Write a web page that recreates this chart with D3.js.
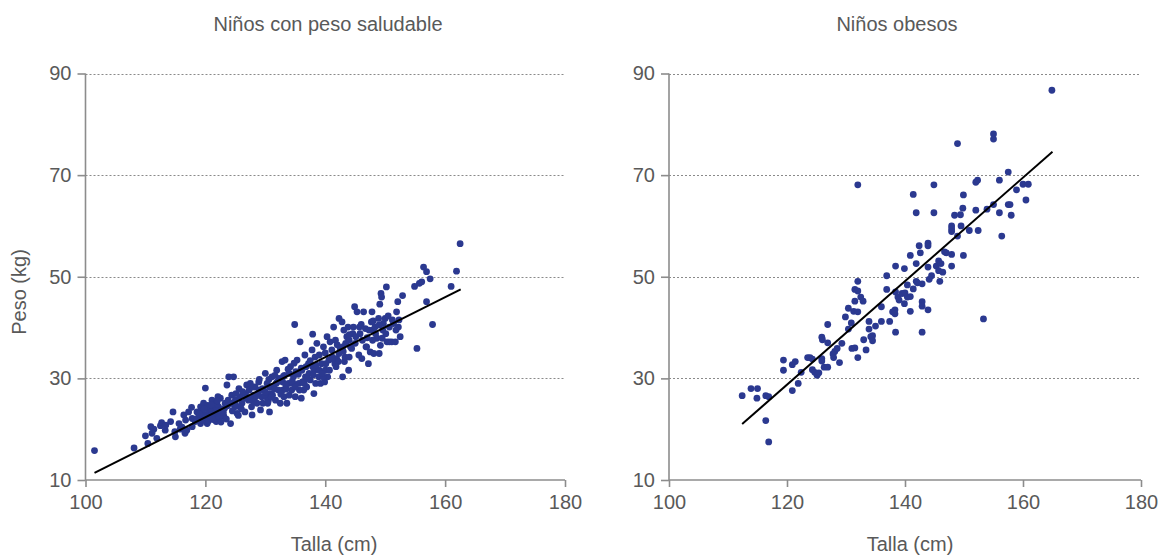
<!DOCTYPE html>
<html>
<head>
<meta charset="utf-8">
<script src="https://cdn.jsdelivr.net/npm/d3@7"></script>
<style>
  html, body { margin: 0; padding: 0; background: #fff; }
  svg text { font-family: "Liberation Sans", Arial, Helvetica, sans-serif; fill: #595959; }
</style>
</head>
<body>
<svg id="chart" width="1160" height="556"></svg>
<script>
// ---------- DATA ----------
const panelTitles = ["Niños con peso saludable", "Niños obesos"];
const xAxisTitle = "Talla (cm)";
const yAxisTitle = "Peso (kg)";
const xTicks = [100, 120, 140, 160, 180];
const yTicks = [10, 30, 50, 70, 90];

const healthyHeight = [
  101.5,108.1,110.4,110.0,110.9,111.4,111.1,111.9,112.5,112.7,
  113.3,113.4,114.2,114.6,115.0,114.9,115.6,115.8,116.1,116.6,
  116.7,116.4,117.2,117.7,116.9,117.8,118.3,118.9,119.2,119.4,
  119.7,120.0,120.1,120.3,120.6,120.8,121.1,121.4,121.7,121.8,
  121.9,122.1,122.5,122.8,123.1,123.3,123.6,123.9,124.2,124.4,
  124.7,124.9,125.0,125.3,125.6,125.8,126.1,126.6,126.7,126.9,
  127.2,127.5,127.8,127.7,128.1,128.3,128.6,128.9,129.2,129.4,
  129.7,130.0,130.3,130.4,130.7,130.8,131.1,131.4,131.7,131.9,
  132.2,132.5,132.8,132.9,133.1,133.2,133.3,133.6,133.9,134.2,
  134.4,134.7,134.9,135.0,135.3,135.6,135.8,136.0,136.1,136.4,
  136.6,136.7,136.9,137.2,137.5,137.8,137.9,138.1,138.2,138.3,
  138.6,138.9,139.2,139.4,139.7,139.9,140.0,140.3,140.4,140.6,
  140.8,141.1,141.4,141.6,141.7,141.9,142.2,142.3,142.5,142.8,
  142.9,143.1,143.2,143.3,143.6,143.8,143.9,144.0,144.2,144.4,
  144.7,144.9,145.3,145.6,145.8,146.1,146.4,146.7,146.9,147.2,
  147.5,147.7,147.8,147.9,148.1,148.3,148.6,148.9,149.0,149.1,
  149.2,149.3,149.4,149.7,150.0,150.2,150.3,150.7,151.1,151.4,
  151.7,151.9,152.1,152.2,152.5,152.9,155.3,154.9,155.7,156.1,
  156.4,156.9,156.9,157.5,157.9,161.0,161.9,162.5,
  117.8,118.6,119.2,119.7,120.4,121.0,121.6,122.2,122.7,123.2,
  123.8,124.3,125.1,125.7,126.2,126.8,127.3,127.9,128.4,129.0,
  129.6,130.1,130.7,131.2,131.8,132.3,132.9,133.4,134.0,134.6,
  135.1,135.7,136.2,136.8,137.3,137.9,138.4,139.0,139.6,140.1,
  140.7,141.2,141.8,142.3,142.9,143.4,144.0,144.6,145.1,145.7,
  146.2,146.8,147.3,147.9,148.4,149.0,149.6,150.1,150.7,151.2,
  151.8,152.3,
  118.5,119.0,119.5,120.0,120.5,120.9,121.3,121.8,122.3,122.6,
  123.0,123.5,119.8,121.0,122.0,123.7,124.5,125.0,125.5,126.0,
  127.5,128.0,128.8,129.5,130.0,130.5,131.0,131.5,132.0,132.6,
  133.0,133.5,134.0,134.5,135.0,135.5,136.0,136.5,137.0,137.5,
  138.0,138.5,139.0,139.5,140.0,133.8,134.8,131.6,130.6,129.0,
  141.0,142.0,143.0,144.0,145.0,146.0,147.0,148.0,149.5,150.5
];
const healthyWeight = [
  15.8,16.3,17.2,18.7,20.5,20.0,19.2,18.2,20.7,21.3,
  19.8,20.8,21.5,23.4,18.5,19.5,21.1,20.0,20.4,19.2,
  21.8,22.8,23.4,24.3,19.8,20.5,21.5,22.5,24.4,23.4,
  25.1,28.1,22.8,21.1,23.8,22.1,25.7,24.4,23.1,21.5,
  25.1,26.4,26.1,23.8,22.5,25.1,28.7,30.3,21.1,26.7,
  30.3,24.4,25.7,23.1,28.0,26.4,25.1,23.4,27.0,28.7,
  25.7,29.0,22.8,24.4,26.7,28.3,25.1,29.3,23.8,26.4,
  27.7,31.0,29.0,25.1,23.4,27.0,30.3,28.3,25.7,31.6,
  27.7,25.1,33.3,29.3,26.4,30.6,33.6,25.1,29.0,32.3,
  27.7,30.3,40.6,26.4,33.6,29.0,37.2,26.1,31.6,27.7,
  34.6,30.3,28.3,32.9,29.7,35.6,38.7,27.0,31.6,34.2,
  36.9,30.3,29.0,32.9,36.2,29.3,31.6,38.2,30.3,33.6,
  37.2,35.6,40.1,32.9,37.5,33.9,33.3,41.8,35.9,41.1,
  30.3,39.5,33.3,34.2,38.2,40.1,31.6,34.2,36.2,35.9,
  40.1,44.1,43.1,34.6,38.8,33.9,43.1,39.8,36.2,32.9,
  35.2,41.1,43.1,39.5,34.9,40.1,37.9,41.8,34.9,44.6,
  36.5,46.7,46.0,40.8,41.8,48.0,37.2,37.2,37.2,40.8,
  37.2,43.1,45.1,40.1,38.2,46.3,35.9,48.1,48.7,49.0,
  51.9,45.1,51.0,49.6,40.6,48.1,51.1,56.5,
  22.1,23.4,21.1,22.5,24.7,23.4,22.1,24.4,22.8,24.1,
  25.7,25.1,27.0,24.4,27.4,26.1,27.7,28.3,26.4,27.7,
  25.1,26.4,28.3,26.7,29.0,30.0,27.7,28.7,31.0,29.0,
  31.3,27.7,29.3,32.3,31.0,32.3,29.0,31.6,30.3,32.9,
  31.6,34.2,32.3,34.9,36.2,36.9,37.5,38.8,38.2,40.1,
  37.5,36.2,39.5,37.5,38.8,40.5,39.5,38.8,40.1,41.5,
  39.5,41.5,
  22.0,23.0,21.8,22.3,21.6,22.6,21.9,23.6,22.4,21.4,
  23.3,22.0,24.0,24.8,25.6,24.6,23.6,24.9,22.7,24.0,
  26.0,25.4,27.0,28.0,27.3,25.6,26.3,27.9,29.3,26.9,
  30.4,27.9,26.7,29.4,28.3,30.8,32.0,29.0,30.0,33.5,
  30.7,32.6,34.6,31.0,35.0,31.8,33.0,30.6,29.8,29.8,
  33.8,36.6,35.3,38.6,36.9,40.6,38.0,41.3,37.9,42.3
];
const obeseHeight = [
  112.4,113.9,115.0,114.9,116.4,116.9,116.4,116.9,119.4,119.4,
  120.9,121.4,120.9,121.9,122.4,123.5,123.9,124.3,124.3,124.7,
  125.1,125.4,125.9,125.9,125.9,126.0,126.3,126.9,126.9,126.9,
  127.8,127.9,128.1,128.5,128.9,129.3,129.9,130.4,130.4,130.9,
  131.0,131.3,131.5,131.5,131.5,132.0,132.0,132.0,132.0,132.5,
  132.9,133.0,133.4,133.9,133.9,134.2,134.5,134.5,135.0,136.0,
  136.0,136.9,136.9,137.4,137.9,138.3,138.3,138.4,138.4,138.4,
  138.8,139.0,139.5,139.9,139.9,140.0,140.4,140.4,140.9,140.9,
  140.9,141.4,141.4,141.9,141.9,141.9,142.1,142.4,142.6,142.9,
  142.9,142.9,142.9,143.9,143.9,143.9,143.9,144.1,144.5,144.9,
  144.9,145.3,145.7,145.7,145.9,146.1,146.4,146.7,147.0,147.9,
  147.9,147.9,147.9,147.9,148.4,148.9,149.4,149.5,149.8,149.9,
  149.9,148.9,150.9,152.0,152.0,152.3,152.4,153.3,153.9,155.0,
  155.0,155.0,156.0,156.0,156.4,157.5,157.5,157.8,158.0,158.9,
  160.0,160.5,160.9,132.0,164.9
];
const obeseWeight = [
  26.6,28.0,28.0,26.1,26.6,26.4,21.7,17.5,33.6,31.6,
  32.7,33.3,27.6,29.0,31.2,34.1,34.1,33.8,31.7,31.2,
  30.6,31.1,33.9,33.4,38.1,37.6,32.2,32.2,37.0,40.6,
  34.8,34.1,35.3,35.9,33.1,36.9,42.1,39.7,43.8,40.9,
  35.9,43.2,36.0,45.2,47.5,43.1,49.1,47.2,34.1,46.0,
  45.2,37.6,35.6,41.2,39.7,38.2,37.4,38.4,40.3,41.2,
  44.1,50.2,47.5,41.2,43.1,43.5,42.7,52.1,39.1,47.0,
  46.0,45.4,46.7,44.7,51.6,46.8,48.4,46.0,43.2,54.2,
  46.1,47.6,66.2,52.6,62.6,49.1,48.8,56.1,54.7,45.1,
  44.2,39.1,48.6,56.6,56.1,51.9,43.5,49.5,50.2,68.1,
  62.6,52.1,53.1,51.2,49.1,52.6,50.9,54.9,54.7,54.4,
  52.1,60.0,59.4,58.9,62.1,58.0,62.2,60.0,63.5,66.1,
  54.2,76.2,59.1,63.1,68.6,69.0,59.1,41.7,63.3,64.2,
  78.1,77.1,69.0,62.6,58.0,70.6,64.2,64.2,62.1,67.1,
  68.2,65.1,68.2,68.1,86.7
];
// trend line end points (height, weight)
const healthyTrendX = [101.5, 162.6];
const healthyTrendY = [11.4, 47.5];
const obeseTrendX = [112.4, 165.0];
const obeseTrendY = [21.0, 74.6];

// ---------- DRAW ----------
const svg = d3.select("#chart");
const textColor = "#595959";
const axisColor = "#8c8c8c";
const dotColor = "#2b3990";

const panels = [
  { title: panelTitles[0], hx: healthyHeight, wy: healthyWeight, tx: healthyTrendX, ty: healthyTrendY,
    x0: 85.5, x1: 565, titleX: 328, xLabelX: 334, showY: true },
  { title: panelTitles[1], hx: obeseHeight, wy: obeseWeight, tx: obeseTrendX, ty: obeseTrendY,
    x0: 669, x1: 1141, titleX: 897, xLabelX: 910, showY: false }
];

const yTop = 73.5, yBottom = 480;

panels.forEach(p => {
  const x = d3.scaleLinear().domain([100, 180]).range([p.x0, p.x1]);
  const y = d3.scaleLinear().domain([10, 90]).range([yBottom, yTop]);
  const g = svg.append("g");

  // gridlines
  g.append("g").selectAll("line")
    .data(yTicks.filter(t => t !== 10))
    .join("line")
    .attr("x1", x(100)).attr("x2", x(180))
    .attr("y1", d => Math.round(y(d)) + 0.5).attr("y2", d => Math.round(y(d)) + 0.5)
    .attr("stroke", "#8a8a8a").attr("stroke-width", 1)
    .attr("stroke-dasharray", "2,2");

  // y axis
  const yAxis = g.append("g")
    .attr("transform", `translate(${x(100)},0)`)
    .call(d3.axisLeft(y).tickValues(yTicks).tickSize(8).tickPadding(6).tickFormat(d3.format("d")));
  // x axis
  const xAxis = g.append("g")
    .attr("transform", `translate(0,${yBottom})`)
    .call(d3.axisBottom(x).tickValues(xTicks).tickSize(7).tickPadding(8).tickFormat(d3.format("d")));

  [yAxis, xAxis].forEach(ax => {
    ax.select(".domain").attr("stroke", axisColor).attr("stroke-width", 1.6);
    ax.selectAll(".tick line").attr("stroke", axisColor).attr("stroke-width", 1.6);
    ax.selectAll(".tick text")
      .attr("fill", textColor)
      .style("font-size", "20px")
      .style("font-family", "'Liberation Sans', Arial, sans-serif");
  });
  yAxis.select(".domain").attr("d", `M0,${yTop}V${yBottom}`);
  xAxis.select(".domain").attr("d", `M${p.x0},0H${p.x1}`);

  // points
  const pts = d3.range(Math.min(p.hx.length, p.wy.length)).map(i => [p.hx[i], p.wy[i]]);
  g.append("g").selectAll("circle")
    .data(pts)
    .join("circle")
    .attr("cx", d => x(d[0]))
    .attr("cy", d => y(d[1]))
    .attr("r", 3.4)
    .attr("fill", dotColor);

  // trend line
  g.append("line")
    .attr("x1", x(p.tx[0])).attr("y1", y(p.ty[0]))
    .attr("x2", x(p.tx[1])).attr("y2", y(p.ty[1]))
    .attr("stroke", "#000").attr("stroke-width", 2);

  // title
  g.append("text")
    .attr("x", p.titleX).attr("y", 31)
    .attr("text-anchor", "middle")
    .style("font-size", "20px")
    .text(p.title);

  // x axis title
  g.append("text")
    .attr("x", p.xLabelX).attr("y", 551)
    .attr("text-anchor", "middle")
    .style("font-size", "20px")
    .text(xAxisTitle);

  if (p.showY) {
    g.append("text")
      .attr("transform", "translate(26,292) rotate(-90)")
      .attr("text-anchor", "middle")
      .style("font-size", "20px")
      .text(yAxisTitle);
  }
});
</script>
</body>
</html>
